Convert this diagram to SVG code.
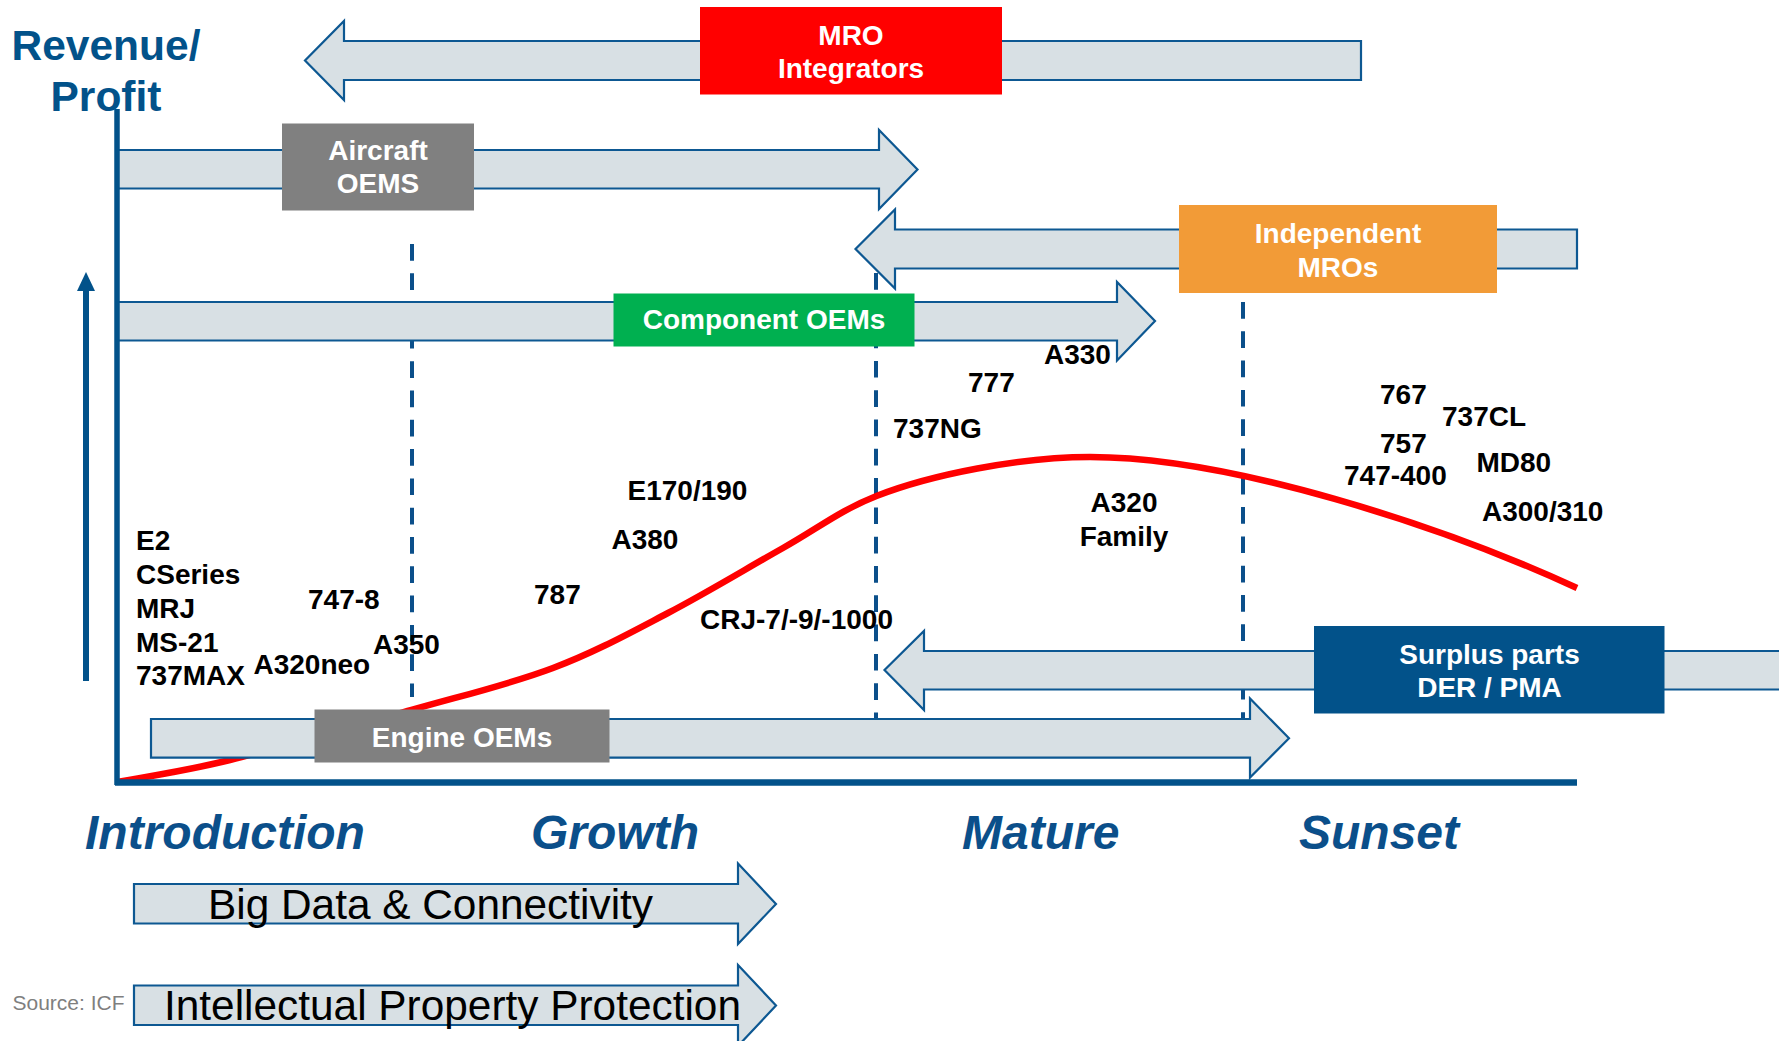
<svg xmlns="http://www.w3.org/2000/svg" width="1779" height="1041" viewBox="0 0 1779 1041">
<style>
.bar{fill:#D8E0E4;stroke:#0D5892;stroke-width:2.2;stroke-linejoin:miter}
.bt{font-family:"Liberation Sans",Arial,sans-serif;font-weight:bold;font-size:28px;fill:#FFFFFF;text-anchor:middle}
.lbl{font-family:"Liberation Sans",Arial,sans-serif;font-weight:bold;font-size:28px;fill:#000000}
.phase{font-family:"Liberation Sans",Arial,sans-serif;font-weight:bold;font-style:italic;font-size:48px;fill:#0B4F8A}
.big{font-family:"Liberation Sans",Arial,sans-serif;font-size:43px;fill:#000000}
.div{stroke:#0B4F8A;stroke-width:4;stroke-dasharray:16.7 12.6;fill:none}
.axis{stroke:#02528A;fill:none}
</style>
<rect width="1779" height="1041" fill="#FFFFFF"/>

<g id="dividers">
<line class="div" x1="412" y1="244" x2="412" y2="697"/>
<line class="div" x1="876" y1="273" x2="876" y2="718"/>
<line class="div" x1="1243" y1="302" x2="1243" y2="718"/>
</g>

<g id="curve">
<path d="M117,782 C135.8,778.3 180.9,772 230,760 C279.1,748 357.7,725.3 411.5,710 C465.3,694.7 510.3,684.2 553,668 C595.75,651.8 629.7,633 668,613 C706.3,593 748.25,567.5 783,548 C817.75,528.5 840.3,510.2 876.5,496 C930.8,474.7 1020,457 1090,457 C1230,457 1440,525 1577,588" fill="none" stroke="#FF0000" stroke-width="6.5"/>
</g>

<g id="connectors">
<polygon class="bar" points="1361,41 344,41 344,21 305,60.5 344,100 344,80 1361,80"/>
<polygon class="bar" points="117,150 879,150 879,130 917.5,169.5 879,209 879,188.5 117,188.5"/>
<polygon class="bar" points="1577,229.5 895,229.5 895,209.5 855.5,249 895,288.5 895,268.5 1577,268.5"/>
<polygon class="bar" points="117,302 1117,302 1117,282 1155,321 1117,360.5 1117,340.5 117,340.5"/>
<polygon class="bar" points="1790,651 924,651 924,631 884.5,670 924,710 924,689.5 1790,689.5"/>
<polygon class="bar" points="151,719 1250,719 1250,698.5 1289,738.3 1250,777.5 1250,757.7 151,757.7"/>
</g>

<g id="axes">
<line class="axis" x1="117" y1="109" x2="117" y2="785" stroke-width="5.5"/>
<line class="axis" x1="115" y1="782.5" x2="1577" y2="782.5" stroke-width="6.5"/>
<line class="axis" x1="86" y1="681" x2="86" y2="285" stroke-width="6"/>
<polygon points="86,272 77,291 95,291" fill="#02528A"/>
<text x="106" y="60" text-anchor="middle" font-family="Liberation Sans, Arial, sans-serif" font-weight="bold" font-size="42.5" fill="#02528A">Revenue/</text>
<text x="106" y="111" text-anchor="middle" font-family="Liberation Sans, Arial, sans-serif" font-weight="bold" font-size="42.5" fill="#02528A">Profit</text>
</g>

<g id="mro-integrators">
<rect x="700" y="7" width="302" height="87.5" fill="#FF0000"/>
<text class="bt" x="851" y="44.5">MRO</text>
<text class="bt" x="851" y="77.5">Integrators</text>
</g>

<g id="aircraft-oems">
<rect x="282" y="123.5" width="192" height="87" fill="#808080"/>
<text class="bt" x="378" y="159.5">Aircraft</text>
<text class="bt" x="378" y="193">OEMS</text>
</g>

<g id="independent-mros">
<rect x="1179" y="205" width="318" height="88" fill="#F29B37"/>
<text class="bt" x="1338" y="242.5">Independent</text>
<text class="bt" x="1338" y="276.5">MROs</text>
</g>

<g id="component-oems">
<rect x="613.5" y="293.5" width="301" height="53" fill="#00B050"/>
<text class="bt" x="764" y="329">Component OEMs</text>
</g>

<g id="engine-oems">
<rect x="314.5" y="709.5" width="295" height="53" fill="#808080"/>
<text class="bt" x="462" y="746.5">Engine OEMs</text>
</g>

<g id="surplus-parts">
<rect x="1314" y="626" width="350.5" height="87.5" fill="#02528A"/>
<text class="bt" x="1489.5" y="663.5">Surplus parts</text>
<text class="bt" x="1489.5" y="697">DER / PMA</text>
</g>

<g id="aircraft-labels">
<text class="lbl" x="136" y="550">E2</text>
<text class="lbl" x="136" y="584">CSeries</text>
<text class="lbl" x="136" y="618">MRJ</text>
<text class="lbl" x="136" y="651.5">MS-21</text>
<text class="lbl" x="136" y="685">737MAX</text>
<text class="lbl" x="308" y="608.5">747-8</text>
<text class="lbl" x="373" y="654">A350</text>
<text class="lbl" x="253.5" y="674">A320neo</text>
<text class="lbl" x="534" y="604">787</text>
<text class="lbl" x="611.5" y="548.5">A380</text>
<text class="lbl" x="627.5" y="500">E170/190</text>
<text class="lbl" x="700" y="628.5">CRJ-7/-9/-1000</text>
<text class="lbl" x="893" y="437.5">737NG</text>
<text class="lbl" x="968" y="392">777</text>
<text class="lbl" x="1044" y="364">A330</text>
<text class="lbl" x="1124" y="512" text-anchor="middle">A320</text>
<text class="lbl" x="1124" y="546" text-anchor="middle">Family</text>
<text class="lbl" x="1380" y="404">767</text>
<text class="lbl" x="1442" y="426">737CL</text>
<text class="lbl" x="1380" y="452.5">757</text>
<text class="lbl" x="1344" y="485">747-400</text>
<text class="lbl" x="1476.5" y="472">MD80</text>
<text class="lbl" x="1482" y="520.5">A300/310</text>
</g>

<g id="phases">
<text class="phase" x="85" y="849">Introduction</text>
<text class="phase" x="531" y="849">Growth</text>
<text class="phase" x="962" y="849">Mature</text>
<text class="phase" x="1299" y="849">Sunset</text>
</g>

<g id="big-data">
<polygon class="bar" points="134,884 738,884 738,863.5 776,904 738,944 738,923.5 134,923.5"/>
<text class="big" x="208" y="918.5" textLength="445" lengthAdjust="spacingAndGlyphs">Big Data &amp; Connectivity</text>
</g>

<g id="ip-protection">
<polygon class="bar" points="134,985.5 738,985.5 738,965 776,1005.5 738,1046 738,1025 134,1025"/>
<text class="big" x="164" y="1020" textLength="577" lengthAdjust="spacingAndGlyphs">Intellectual Property Protection</text>
</g>

<g id="source">
<text x="12.5" y="1010" font-family="Liberation Sans, Arial, sans-serif" font-size="21" fill="#7F7F7F">Source: ICF</text>
</g>
</svg>
